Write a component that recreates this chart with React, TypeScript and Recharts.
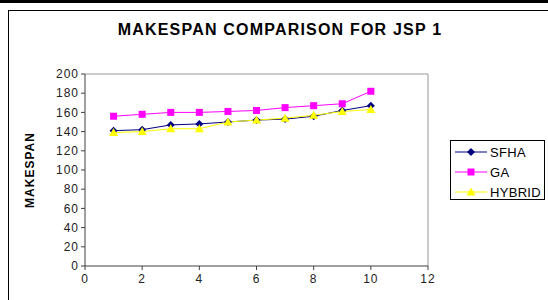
import React from 'react';
import { LineChart, Line, XAxis, YAxis, ReferenceLine } from 'recharts';

// values
const runs = [1, 2, 3, 4, 5, 6, 7, 8, 9, 10];
const sfha = [141, 142, 147, 148, 150, 152, 153, 156, 162, 167];
const ga = [156, 158, 160, 160, 161, 162, 165, 167, 169, 182];
const hybrid = [139, 140, 143, 143, 150, 152, 154, 157, 161, 163];
const xTicks = [0, 2, 4, 6, 8, 10, 12];
const yTicks = [0, 20, 40, 60, 80, 100, 120, 140, 160, 180, 200];

const data = runs.map((r, i) => ({ run: r, SFHA: sfha[i], GA: ga[i], HYBRID: hybrid[i] }));

const SERIES = [
  { key: 'SFHA', color: '#000080', shape: 'diamond' },
  { key: 'GA', color: '#FF00FF', shape: 'square' },
  { key: 'HYBRID', color: '#FFFF00', shape: 'triangle' },
];

const FONT = 'Arial, "Liberation Sans", sans-serif';

function Marker({ cx, cy, shape, color }: { cx: number; cy: number; shape: string; color: string }) {
  if (cx == null || cy == null) return null;
  if (shape === 'square') {
    return <rect x={cx - 3.5} y={cy - 3.5} width={7} height={7} fill={color} />;
  }
  if (shape === 'triangle') {
    return <polygon points={`${cx},${cy - 4.5} ${cx + 4.5},${cy + 3.5} ${cx - 4.5},${cy + 3.5}`} fill={color} />;
  }
  return <polygon points={`${cx},${cy - 4} ${cx + 4},${cy} ${cx},${cy + 4} ${cx - 4},${cy}`} fill={color} />;
}

function LegendBox() {
  return (
    <div style={{ border: '1px solid #000', background: '#fff', width: 95, height: 60, boxSizing: 'border-box', paddingTop: 1, fontFamily: FONT, fontSize: 13 }}>
      {SERIES.map(s => (
        <div key={s.key} style={{ display: 'flex', alignItems: 'center', height: 20 }}>
          <svg width={34} height={12} style={{ marginLeft: 3 }}>
            <line x1={1} y1={6} x2={33} y2={6} stroke={s.color} strokeWidth={1} />
            <Marker cx={17} cy={6} shape={s.shape} color={s.color} />
          </svg>
          <span style={{ marginLeft: 2, color: '#000', letterSpacing: 0.3 }}>{s.key}</span>
        </div>
      ))}
    </div>
  );
}

export default function App() {
  return (
    <div style={{ position: 'fixed', left: 0, top: 0, width: 548, height: 300, background: '#fff', overflow: 'hidden' }}>
      <div style={{ position: 'absolute', left: 0, top: 0, width: 548, height: 3, background: '#000' }} />
      <div style={{ position: 'absolute', left: 8, top: 10, width: 540, height: 290, borderLeft: '1px solid #000', borderTop: '1px solid #000' }} />
      <div style={{ position: 'absolute', left: 0, top: 21, width: 560, textAlign: 'center', fontFamily: FONT, fontWeight: 'bold', fontSize: 16, letterSpacing: 1.2, color: '#000' }}>
        MAKESPAN COMPARISON FOR JSP 1
      </div>
      <div style={{ position: 'absolute', left: 0, top: 0 }}>
        <LineChart width={548} height={300} data={data} margin={{ top: 74, right: 120, bottom: 0, left: 0 }}>
          <XAxis
            dataKey="run"
            type="number"
            domain={[0, 12]}
            ticks={xTicks}
            interval={0}
            tickSize={4}
            tickMargin={4}
            stroke="#404040"
            tick={{ fill: '#222', fontSize: 12, fontFamily: FONT, letterSpacing: 1 }}
            height={34}
          />
          <YAxis
            type="number"
            domain={[0, 200]}
            ticks={yTicks}
            interval={0}
            tickSize={4}
            width={85}
            stroke="#404040"
            tick={{ fill: '#222', fontSize: 12, fontFamily: FONT, letterSpacing: 1 }}
            label={{ value: 'MAKESPAN', angle: -90, position: 'insideLeft', offset: 30, style: { fontFamily: FONT, fontWeight: 'bold', fontSize: 12, letterSpacing: 1, fill: '#000', textAnchor: 'middle' } }}
          />
          <ReferenceLine y={200} stroke="#999" />
          <ReferenceLine x={12} stroke="#999" />
          {SERIES.map(s => (
            <Line
              key={s.key}
              dataKey={s.key}
              stroke={s.color}
              strokeWidth={1}
              isAnimationActive={false}
              dot={(p: any) => <Marker key={`${s.key}-${p.index}`} cx={p.cx} cy={p.cy} shape={s.shape} color={s.color} />}
              activeDot={false}
            />
          ))}
        </LineChart>
      </div>
      <div style={{ position: 'absolute', left: 450, top: 140 }}>
        <LegendBox />
      </div>
    </div>
  );
}
